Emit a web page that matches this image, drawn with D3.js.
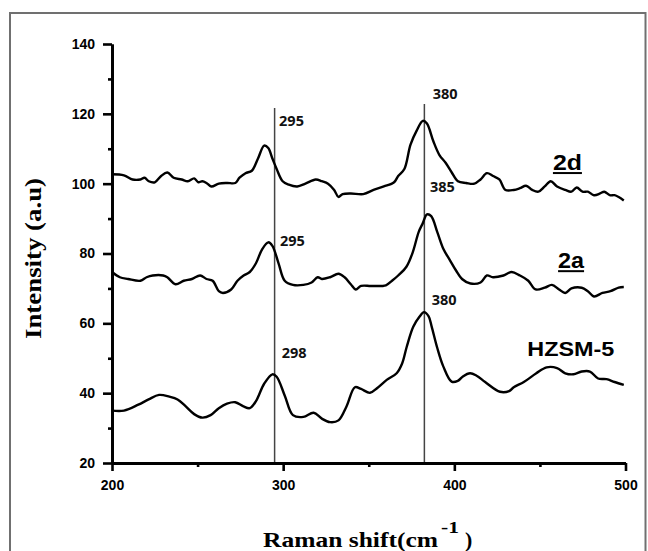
<!DOCTYPE html>
<html><head><meta charset="utf-8">
<script src="https://cdn.jsdelivr.net/npm/d3@7"></script>
<style>
html,body{margin:0;padding:0;background:#fff;}
svg{display:block;}
</style></head>
<body>
<svg id="chart" width="648" height="551"></svg>
<script>
// ---- data ----
const xTicks = [200, 300, 400, 500];
const xMinor = [250, 350, 450];
const yTicks = [20, 40, 60, 80, 100, 120, 140];
const yMinor = [30, 50, 70, 90, 110, 130];

const shift2d = [200,207,212,216.6,219,221.5,225,228.7,232.3,236,240.7,244.3,248,250.4,252.8,255.2,258,262.4,267.2,272,274.5,278,281.7,285.3,288.9,291.3,293.7,296.2,299.7,303.3,308.2,313,319,322.6,326.2,329.8,332.3,334.7,339.5,346.8,352.8,358.8,364.8,367.2,370.8,374.4,378,381.6,384,387.7,391.3,394.9,398.5,402.1,406.9,411.7,415.3,419,422.6,426.3,429.9,434.7,438.3,441.9,445.5,449.1,452.8,456.3,460,464.8,468.4,471.5,474.9,478,481.6,485.2,487.6,490.8,493.6,496,499];
const int2d = [102.7,102.4,101.2,101.2,101.7,100.7,100.4,102.2,103.2,101.7,101.2,100.7,101.5,100.4,100.7,100.2,99.2,100.0,100.2,100.2,101.7,103.0,103.7,107.2,110.9,110.2,107.2,104.2,100.7,99.7,99.2,100.0,101.2,100.7,100.0,98.2,96.2,97.0,97.2,97.0,98.2,99.2,100.4,102.2,104.2,111.2,115.2,118.0,117.2,112.2,108.2,106.0,103.2,100.7,100.2,100.0,101.2,103.0,102.2,101.2,98.2,98.2,98.7,99.4,98.2,97.7,99.2,100.7,99.2,98.2,97.7,98.9,97.7,97.7,96.7,97.2,97.7,96.7,96.7,96.2,95.2];

const shift2a = [200,204.6,209.4,216.6,220.2,223.8,229.9,232.3,237.1,241.9,246.7,251.5,255.2,258.8,262.4,264.8,269.6,273.3,276.9,280.5,284.1,287.7,291.3,293.7,297.3,300.9,305.7,311.8,316.6,320.2,322.6,327.4,332.3,335.9,339.5,342.4,345.5,351.5,360,363.6,367.2,372,375.6,379.2,381.6,384,386.5,390,393.7,397.3,400.9,404.5,409.4,415.3,419,422.6,428.7,433.5,438.3,443.2,447.5,452.8,457,461.2,464.8,468.4,474.4,478,481.6,486.5,491.2,496,499];
const int2a = [74.7,73.2,72.7,72.2,73.2,73.7,73.7,73.2,71.2,72.2,72.7,73.7,72.7,72.2,69.2,68.7,69.7,72.2,73.7,74.7,77.2,81.2,83.2,82.2,77.2,72.2,71.0,71.0,71.7,73.2,72.7,73.2,74.2,73.2,71.2,69.7,70.7,70.7,70.9,72.2,73.7,76.2,80.2,86.2,88.7,91.2,90.7,86.2,81.2,78.2,75.2,72.7,71.4,71.7,73.7,73.2,73.7,74.7,73.7,72.2,69.7,70.2,71.0,69.7,68.7,70.0,70.2,69.2,67.7,68.7,69.2,70.2,70.4];

const shiftH = [200,207,215.4,221.4,227.5,233.5,238.3,243.1,248,252.8,257.6,262.4,267.2,272,276.8,280.5,284.1,288.9,293.7,296.2,301,305.7,311.8,317.8,322.6,327.4,332.3,337,341.9,345.5,350.7,355,360.5,366.3,369.5,372.2,376,379.5,382.3,385,386.8,390,393.6,398.4,402,405,409.2,413,418,426.7,432,434.7,440.6,447.9,453.9,460,464.8,469.6,474.4,479.2,484,488.9,493.6,499];
const intH = [35.0,35.0,36.7,38.2,39.5,39.0,38.2,36.2,34.0,33.0,33.7,35.7,37.0,37.4,36.2,35.7,37.7,42.7,45.4,44.7,39.2,33.7,33.2,34.4,32.7,31.7,32.2,36.2,41.7,41.2,40.1,41.5,43.8,45.7,48.5,53.3,59.0,61.8,63.2,62.0,59.0,53.0,47.6,43.3,43.5,44.8,45.7,45.0,43.2,40.4,40.6,41.7,43.2,45.7,47.4,47.2,45.7,45.4,46.2,46.2,44.2,44.0,43.2,42.4];

const refLines = [295, 382.5];
const refTops = [121.7, 122.8];

const peakLabels = ["295", "380", "385", "295", "298", "380"];
const peakX = [297.6, 387.4, 385.8, 298.1, 299.1, 386.8];
const peakY = [116.6, 124.2, 97.5, 82.1, 50.0, 65.2];

const seriesNames = ["2d", "2a", "HZSM-5"];
const nameX = [457.6, 460.6, 442.6];
const nameY = [103.9, 75.8, 50.6];

// ---- chart ----
const svg = d3.select("#chart");
const x = d3.scaleLinear().domain([200, 500]).range([112, 625.5]);
const y = d3.scaleLinear().domain([20, 140]).range([463, 44]);

// frame
svg.append("rect").attr("x", 10).attr("y", 13).attr("width", 635.5).attr("height", 600)
  .attr("fill", "none").attr("stroke", "#707070").attr("stroke-width", 2);

// reference lines
svg.selectAll("line.ref").data(refLines).join("line").attr("class", "ref")
  .attr("x1", d => x(d)).attr("x2", d => x(d))
  .attr("y1", (d, i) => y(refTops[i])).attr("y2", y(20))
  .attr("stroke", "#444").attr("stroke-width", 1.5);

// curves
const line = d3.line().x(d => x(d[0])).y(d => y(d[1])).curve(d3.curveCatmullRom.alpha(0.5));
const series = [d3.zip(shift2d, int2d), d3.zip(shift2a, int2a), d3.zip(shiftH, intH)];
svg.selectAll("path.curve").data(series).join("path").attr("class", "curve")
  .attr("d", line).attr("fill", "none").attr("stroke", "#000")
  .attr("stroke-width", 2.4).attr("stroke-linejoin", "round");

// axes
function styleAxis(g) {
  g.select(".domain").attr("stroke", "#000").attr("stroke-width", 2.8);
  g.selectAll(".tick line").attr("stroke", "#000").attr("stroke-width", 2.6);
  g.selectAll(".tick text").attr("fill", "#000")
    .style("font-family", "'Liberation Sans', Arial, sans-serif")
    .style("font-weight", "bold").style("font-size", "14px");
}
const gx = svg.append("g").attr("transform", `translate(0,${y(20)})`)
  .call(d3.axisBottom(x).tickValues(xTicks).tickFormat(d3.format("d")).tickSize(8).tickSizeOuter(0).tickPadding(9));
styleAxis(gx);
const gxm = svg.append("g").attr("transform", `translate(0,${y(20)})`)
  .call(d3.axisBottom(x).tickValues(xMinor).tickFormat("").tickSize(4).tickSizeOuter(0));
styleAxis(gxm);
const gy = svg.append("g").attr("transform", `translate(${x(200)},0)`)
  .call(d3.axisLeft(y).tickValues(yTicks).tickFormat(d3.format("d")).tickSize(9).tickSizeOuter(0).tickPadding(8));
styleAxis(gy);
const gym = svg.append("g").attr("transform", `translate(${x(200)},0)`)
  .call(d3.axisLeft(y).tickValues(yMinor).tickFormat("").tickSize(4).tickSizeOuter(0));
styleAxis(gym);

// peak labels
svg.selectAll("text.peak").data(peakLabels).join("text").attr("class", "peak")
  .attr("x", (d, i) => x(peakX[i])).attr("y", (d, i) => y(peakY[i]))
  .text(d => d)
  .style("font-family", "'Open Sans', sans-serif").style("font-weight", "700")
  .style("font-size", "14.5px").attr("fill", "#111");

// series names
const nameLens = [29, 26, 87];
svg.selectAll("text.name").data(seriesNames).join("text").attr("class", "name")
  .attr("x", (d, i) => x(nameX[i])).attr("y", (d, i) => y(nameY[i]))
  .attr("textLength", (d, i) => nameLens[i]).attr("lengthAdjust", "spacingAndGlyphs")
  .text(d => d)
  .style("font-family", "'Liberation Sans', Arial, sans-serif").style("font-weight", "bold")
  .style("font-size", (d, i) => i < 2 ? "22px" : "20px").attr("fill", "#000");
// underlines for 2d and 2a
svg.selectAll("line.ul").data(seriesNames.slice(0, 2)).join("line").attr("class", "ul")
  .attr("x1", (d, i) => x(nameX[i])).attr("x2", (d, i) => x(nameX[i]) + nameLens[i])
  .attr("y1", (d, i) => y(nameY[i]) + 3).attr("y2", (d, i) => y(nameY[i]) + 3)
  .attr("stroke", "#000").attr("stroke-width", 2);

// axis titles
const serif = "'Liberation Serif', 'Times New Roman', serif";
svg.append("text").attr("x", 263).attr("y", 547).attr("textLength", 175).attr("lengthAdjust", "spacingAndGlyphs")
  .text("Raman shift(cm").style("font-family", serif).style("font-weight", "bold").style("font-size", "22px");
svg.append("text").attr("x", 441).attr("y", 533).attr("textLength", 18).attr("lengthAdjust", "spacingAndGlyphs")
  .text("-1").style("font-family", serif).style("font-weight", "bold").style("font-size", "17px");
svg.append("text").attr("x", 465).attr("y", 547)
  .text(")").style("font-family", serif).style("font-weight", "bold").style("font-size", "22px");
svg.append("text").attr("transform", "translate(41,339) rotate(-90)")
  .attr("textLength", 161).attr("lengthAdjust", "spacingAndGlyphs")
  .text("Intensity (a.u)").style("font-family", serif).style("font-weight", "bold").style("font-size", "23px");
</script>
</body></html>
